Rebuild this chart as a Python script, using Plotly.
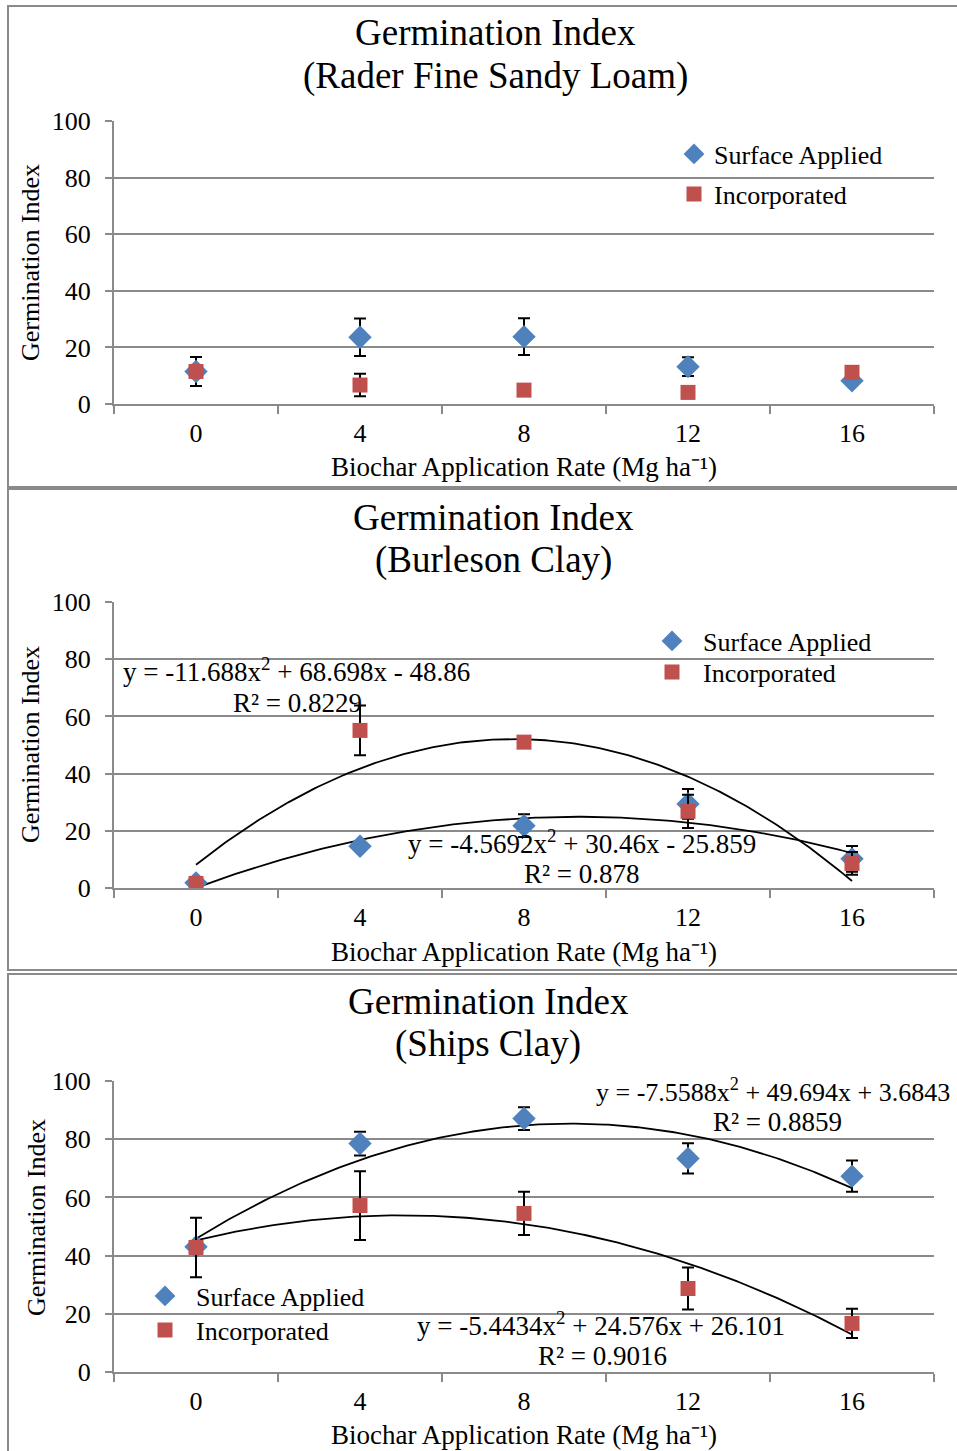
import numpy as np
import plotly.graph_objects as go

# ---------------- data ----------------
rates = [0, 4, 8, 12, 16]
rate_labels = ["0", "4", "8", "12", "16"]

# Panel 1: Rader Fine Sandy Loam
rader_surface = [11.5, 23.6, 23.8, 13.2, 8.2]
rader_surface_err = [5.1, 6.6, 6.5, 3.3, 1.5]
rader_incorp = [11.5, 6.7, 4.9, 4.1, 11.2]
rader_incorp_err = [0, 4.0, 0, 0, 0]

# Panel 2: Burleson Clay
burl_surface = [1.8, 14.6, 21.8, 29.4, 10.2]
burl_surface_err = [0.8, 1.2, 4.0, 5.2, 4.5]
burl_incorp = [1.6, 55.1, 51.0, 26.8, 8.6]
burl_incorp_err = [0.8, 8.7, 0.8, 5.8, 4.0]

# Panel 3: Ships Clay
ships_surface = [43.0, 78.5, 87.1, 73.4, 67.3]
ships_surface_err = [1.0, 4.1, 3.9, 5.2, 5.4]
ships_incorp = [42.8, 57.2, 54.5, 28.7, 16.7]
ships_incorp_err = [10.2, 11.8, 7.4, 7.2, 5.0]

# Trendline coefficients (x = category index 1..5), as printed on the chart
burl_incorp_coef = [-11.688, 68.698, -48.86]
burl_surface_coef = [-4.5692, 30.46, -25.859]
ships_surface_coef = [-7.5588, 49.694, 3.6843]
ships_incorp_coef = [-5.4434, 24.576, 26.101]

title_line1 = "Germination Index"
title_line2 = ["(Rader Fine Sandy Loam)", "(Burleson Clay)", "(Ships Clay)"]
x_title = "Biochar Application Rate (Mg ha⁻¹)"
y_title = "Germination Index"

# ---------------- style ----------------
W, H = 957, 1451
BLUE = "#4F81BD"
RED = "#C0504D"
GRID = "#8A8A8A"
FONT = "Liberation Serif"


def px_x(x):
    return x / W


def px_y(y):
    return 1 - y / H


fig = go.Figure()

x_dom = [px_x(114), px_x(934)]
y_doms = [
    [px_y(404), px_y(121)],
    [px_y(888), px_y(602)],
    [px_y(1372), px_y(1081)],
]

panels = [
    (rader_surface, rader_surface_err, rader_incorp, rader_incorp_err, []),
    (burl_surface, burl_surface_err, burl_incorp, burl_incorp_err,
     [burl_incorp_coef, burl_surface_coef]),
    (ships_surface, ships_surface_err, ships_incorp, ships_incorp_err,
     [ships_surface_coef, ships_incorp_coef]),
]

# one legend per entry: (surface legend, incorporated legend)
legend_ids = [("legend", "legend2"), ("legend3", "legend4"), ("legend5", "legend6")]

for k, (s, se, inc, ie, coefs) in enumerate(panels):
    suffix = "" if k == 0 else str(k + 1)
    xa, ya = "x" + suffix, "y" + suffix
    # trendlines
    for c in coefs:
        idx = np.linspace(1, 5, 200)
        yy = np.polyval(c, idx)
        fig.add_trace(go.Scatter(
            x=(idx - 1) * 4, y=yy, mode="lines",
            line=dict(color="black", width=1.8),
            showlegend=False, hoverinfo="skip", xaxis=xa, yaxis=ya))
    fig.add_trace(go.Scatter(
        x=rates, y=s, mode="markers", name="Surface Applied",
        marker=dict(symbol="diamond", size=18, color=BLUE),
        error_y=dict(type="data", array=se, color="black", thickness=2, width=6),
        legend=legend_ids[k][0], xaxis=xa, yaxis=ya))
    fig.add_trace(go.Scatter(
        x=rates, y=inc, mode="markers", name="Incorporated",
        marker=dict(symbol="square", size=15, color=RED),
        error_y=dict(type="data", array=ie, color="black", thickness=2, width=6),
        legend=legend_ids[k][1], xaxis=xa, yaxis=ya))

axis_font = dict(family=FONT, size=26, color="black")
layout = dict(
    width=W, height=H,
    margin=dict(l=0, r=0, t=0, b=0, pad=0, autoexpand=False),
    paper_bgcolor="white", plot_bgcolor="white",
    font=dict(family=FONT, size=26, color="black"),
)
for k in range(3):
    suffix = "" if k == 0 else str(k + 1)
    layout["xaxis" + suffix] = dict(
        domain=x_dom, range=[-2, 18], anchor="y" + suffix, automargin=False,
        tickvals=rates, ticktext=rate_labels, ticks="",
        tickfont=axis_font, ticklabelstandoff=5,
        showline=True, linecolor=GRID, linewidth=2,
        showgrid=False, zeroline=False,
        minor=dict(tickvals=[-2, 2, 6, 10, 14, 18], ticks="outside",
                   ticklen=8, tickcolor=GRID, tickwidth=2, showgrid=False),
    )
    layout["yaxis" + suffix] = dict(
        domain=y_doms[k], range=[0, 100], anchor="x" + suffix, automargin=False,
        tickvals=[0, 20, 40, 60, 80, 100], ticks="outside", ticklen=7,
        tickcolor=GRID, tickwidth=2, tickfont=axis_font, ticklabelstandoff=9,
        showline=True, linecolor=GRID, linewidth=2,
        showgrid=True, gridcolor=GRID, gridwidth=2, zeroline=False,
    )

legend_font = dict(family=FONT, size=26, color="black")
# (legend id, left x px, centre y px, itemwidth)
legend_pos = [
    ("legend", 674, 154, 30), ("legend2", 674, 194, 30),
    ("legend3", 641, 641, 52), ("legend4", 641, 672, 52),
    ("legend5", 134, 1296, 52), ("legend6", 134, 1330, 52),
]
for lid, lx, ly, iw in legend_pos:
    layout[lid] = dict(x=px_x(lx), y=px_y(ly), xanchor="left", yanchor="middle",
                       font=legend_font, bgcolor="rgba(0,0,0,0)", itemwidth=iw)

fig.update_layout(**layout)

# panel borders
borders = [(6, 487), (489, 970), (974, 1460)]
for top, bot in borders:
    fig.add_shape(type="rect", xref="paper", yref="paper",
                  x0=px_x(8), x1=px_x(970), y0=px_y(bot), y1=px_y(top),
                  line=dict(color=GRID, width=2), fillcolor="rgba(0,0,0,0)",
                  layer="below")

ann = []
title_pos = [(495, 33, 76), (494, 517, 560), (488, 1001, 1044)]
for t2, (cx, y1, y2) in zip(title_line2, title_pos):
    for t, cy in ((title_line1, y1), (t2, y2)):
        ann.append(dict(text=t, x=px_x(cx), y=px_y(cy), xref="paper", yref="paper",
                        xanchor="center", yanchor="middle", showarrow=False,
                        font=dict(family=FONT, size=37, color="black")))

ytitle_pos = [(30, 263), (30, 745), (36, 1218)]
for cx, cy in ytitle_pos:
    ann.append(dict(text=y_title, x=px_x(cx), y=px_y(cy),
                    xref="paper", yref="paper", textangle=-90,
                    xanchor="center", yanchor="middle", showarrow=False,
                    font=dict(family=FONT, size=26, color="black")))

xtitle_pos = [(524, 467), (524, 952), (524, 1435)]
for cx, cy in xtitle_pos:
    ann.append(dict(text=x_title,
                    x=px_x(cx), y=px_y(cy), xref="paper", yref="paper",
                    xanchor="center", yanchor="middle", showarrow=False,
                    font=dict(family=FONT, size=27, color="black")))


def eq_text(c):
    a, b, d = c
    sb = "+" if b >= 0 else "-"
    sd = "+" if d >= 0 else "-"
    return f"y = {a:g}x<sup>2</sup> {sb} {abs(b):g}x {sd} {abs(d):g}"


eqs = [
    (eq_text(burl_incorp_coef), 296, 670, "center", 27),
    ("R² = 0.8229", 297, 703, "center", 27),
    (eq_text(burl_surface_coef), 582, 842, "center", 27),
    ("R² = 0.878", 582, 874, "center", 27),
    (eq_text(ships_surface_coef), 594, 1090, "left", 26),
    ("R² = 0.8859", 777, 1122, "center", 27),
    (eq_text(ships_incorp_coef), 601, 1324, "center", 27),
    ("R² = 0.9016", 602, 1356, "center", 27),
]
for t, cx, cy, anc, fs in eqs:
    ann.append(dict(text=t, x=px_x(cx), y=px_y(cy), xref="paper", yref="paper",
                    xanchor=anc, yanchor="middle", showarrow=False,
                    font=dict(family=FONT, size=fs, color="black")))

fig.update_layout(annotations=ann)
fig.write_html("out.html")
